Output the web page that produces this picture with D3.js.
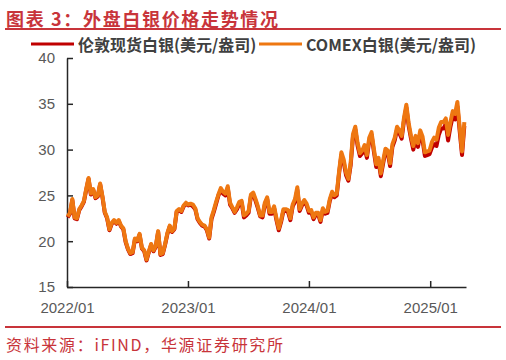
<!DOCTYPE html>
<html><head><meta charset="utf-8">
<script src="https://cdn.jsdelivr.net/npm/d3@7"></script>
<style>
html,body{margin:0;padding:0;background:#fff;}
svg{display:block;}
</style></head>
<body>
<svg id="c" width="506" height="360"></svg>
<script>
// Weekly observations (Mondays) from 2022-01-03
const startDate = "2022-01-03";
const londonSilver = [
 22.6,23.0,24.5,22.5,22.4,23.4,23.8,24.3,25.6,26.8,25.1,25.6,24.7,24.9,26.2,24.8,23.1,22.5,21.2,21.9,22.2,21.9,22.2,21.6,21.3,19.9,19.1,18.6,18.7,20.2,20.0,20.7,19.2,18.9,17.9,18.8,19.6,18.9,19.4,21.0,18.5,18.6,19.6,20.8,21.6,21.0,21.3,23.2,23.4,23.2,23.8,24.1,
 23.9,24.0,23.8,23.5,22.4,22.0,21.7,21.6,21.2,20.3,22.4,23.2,24.1,25.0,25.6,25.2,25.0,25.8,24.0,23.6,23.1,23.5,24.1,24.2,22.6,22.8,23.1,24.9,25.1,24.4,23.6,22.7,22.6,24.0,24.6,23.0,23.0,23.6,22.3,21.2,22.1,23.3,23.3,23.2,22.3,23.8,24.3,25.6,23.3,23.9,24.3,23.9,
 23.1,23.2,22.4,22.9,22.9,22.1,23.4,23.0,23.1,24.4,25.2,24.8,25.0,27.4,29.4,28.6,27.2,26.6,28.3,31.4,32.2,30.4,29.3,29.6,30.2,29.1,31.0,31.6,29.8,28.1,28.8,27.1,28.5,29.8,29.6,28.2,30.3,31.0,32.2,31.8,31.2,33.2,34.6,32.6,31.2,30.0,31.1,30.3,31.7,31.0,29.3,29.4,29.5,
 30.2,30.6,30.4,31.6,32.3,32.3,32.8,31.0,32.5,33.6,33.3,34.7,32.0,29.4,32.6
];
const comexSilver = [
 22.7,23.1,24.6,22.6,22.5,23.5,23.9,24.4,25.7,26.9,25.2,25.7,24.8,25.0,26.3,24.9,23.2,22.6,21.3,22.0,22.3,22.0,22.3,21.7,21.4,20.0,19.2,18.7,18.8,20.3,20.1,20.8,19.3,19.0,18.0,18.9,19.7,19.0,19.5,21.1,18.6,18.7,19.7,20.9,21.7,21.1,21.4,23.3,23.5,23.3,23.9,24.2,
 24.0,24.1,24.0,23.6,22.5,22.1,21.8,21.7,21.3,20.4,22.6,23.4,24.3,25.1,25.8,25.4,25.2,26.0,24.2,23.7,23.2,23.7,24.3,24.4,22.8,23.0,23.3,25.1,25.3,24.6,23.8,22.8,22.8,24.2,24.8,23.2,23.2,23.8,22.5,21.4,22.3,23.5,23.5,23.4,22.5,24.0,24.6,25.9,23.5,24.1,24.5,24.1,
 23.3,23.4,22.6,23.1,23.1,22.3,23.6,23.2,23.3,24.6,25.4,25.0,25.2,27.6,29.7,28.9,27.5,26.8,28.6,31.7,32.5,30.7,29.6,29.9,30.5,29.4,31.3,31.9,30.1,28.4,29.1,27.4,28.8,30.1,29.9,28.5,30.6,31.3,32.5,32.1,31.5,33.5,34.9,32.9,31.5,30.4,31.5,30.7,32.1,31.4,29.7,29.8,29.9,
 30.8,31.3,31.1,32.4,33.0,33.0,33.4,31.6,33.0,34.2,33.9,35.2,32.4,29.8,33.0
];
const seriesNames = ["伦敦现货白银(美元/盎司)", "COMEX白银(美元/盎司)"];
const yTicks = [15, 20, 25, 30, 35, 40];
const xTickLabels = ["2022/01", "2023/01", "2024/01", "2025/01"];
const titleText = "图表 3：外盘白银价格走势情况";
const sourceText = "资料来源：iFIND，华源证券研究所";

const parse = d3.timeParse("%Y-%m-%d");
const dates = d3.range(londonSilver.length).map(i => d3.timeDay.offset(parse(startDate), 7 * i));
const xTickDates = xTickLabels.map(s => d3.timeParse("%Y/%m")(s));

const svg = d3.select("#c");
const red = "#c00000", orange = "#ee7711", brand = "#c8343a";
const cjk = "'Noto Sans CJK SC', 'Noto Sans', sans-serif";
const latin = "'Liberation Sans', Arial, sans-serif";

const x = d3.scaleTime().domain([parse("2022-01-01"), parse("2025-04-19")]).range([67, 466]);
const y = d3.scaleLinear().domain([15, 40]).range([287, 58]);

// title
svg.append("text").attr("x", 6).attr("y", 26).text(titleText)
  .attr("font-family", cjk).attr("font-weight", "bold").attr("font-size", 18)
  .attr("fill", brand).attr("textLength", 272).attr("lengthAdjust", "spacing");
svg.append("line").attr("x1", 5).attr("x2", 501).attr("y1", 29).attr("y2", 29)
  .attr("stroke", brand).attr("stroke-width", 2);

// legend
const leg = [{n: seriesNames[0], c: red, x: 31}, {n: seriesNames[1], c: orange, x: 259}];
leg.forEach(l => {
  svg.append("line").attr("x1", l.x).attr("x2", l.x + 43).attr("y1", 44).attr("y2", 44)
    .attr("stroke", l.c).attr("stroke-width", 3);
  svg.append("text").attr("x", l.x + 47).attr("y", 51).text(l.n)
    .attr("font-family", cjk).attr("font-weight", "bold").attr("font-size", 16).attr("fill", "#404040");
});

// axes
const yAxis = d3.axisLeft(y).tickValues(yTicks).tickSize(-6).tickSizeOuter(0).tickPadding(12);
const xAxis = d3.axisBottom(x).tickValues(xTickDates).tickFormat(d3.timeFormat("%Y/%m")).tickSize(-6).tickSizeOuter(0).tickPadding(15);

const gy = svg.append("g").attr("transform", "translate(67,0)").call(yAxis);
const gx = svg.append("g").attr("transform", "translate(0,287)").call(xAxis);
[gx, gy].forEach(g => {
  g.select(".domain").attr("stroke", "#262626").attr("stroke-width", 1.5);
  g.selectAll(".tick line").attr("stroke", "#262626").attr("stroke-width", 1.5);
  g.selectAll(".tick text").attr("font-family", latin).attr("font-size", 15).attr("fill", "#595959");
});

// lines
const line = vals => d3.line().x((d, i) => x(dates[i])).y(d => y(d))(vals);
svg.append("path").attr("d", line(londonSilver)).attr("fill", "none").attr("stroke", red)
  .attr("stroke-width", 4).attr("stroke-linejoin", "round");
svg.append("path").attr("d", line(comexSilver)).attr("fill", "none").attr("stroke", orange)
  .attr("stroke-width", 4).attr("stroke-linejoin", "round");

// footer
svg.append("line").attr("x1", 5).attr("x2", 501).attr("y1", 327).attr("y2", 327)
  .attr("stroke", brand).attr("stroke-width", 2);
svg.append("text").attr("x", 6).attr("y", 351).text(sourceText)
  .attr("font-family", cjk).attr("font-size", 16).attr("fill", brand)
  .attr("textLength", 277).attr("lengthAdjust", "spacing");
</script>
</body></html>
